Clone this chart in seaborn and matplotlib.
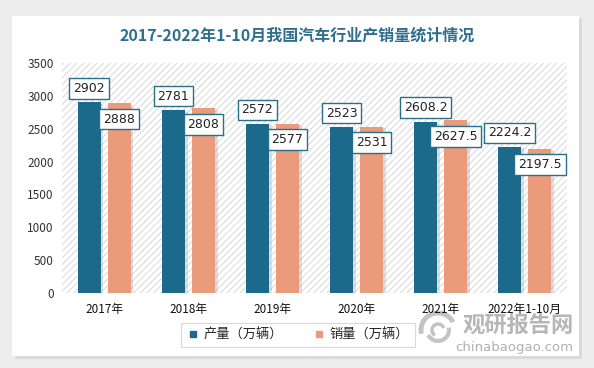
import matplotlib
matplotlib.use("Agg")
import matplotlib.pyplot as plt
import matplotlib.patheffects as pe
from matplotlib.patches import Rectangle, FancyBboxPatch, Arc
from matplotlib.lines import Line2D
import seaborn as sns
import pandas as pd

categories = ["2017年", "2018年", "2019年", "2020年", "2021年", "2022年1-10月"]
production = [2902, 2781, 2572, 2523, 2608.2, 2224.2]
sales = [2888, 2808, 2577, 2531, 2627.5, 2197.5]
series_names = ["产量（万辆）", "销量（万辆）"]
title = "2017-2022年1-10月我国汽车行业产销量统计情况"
yticks = [0, 500, 1000, 1500, 2000, 2500, 3000, 3500]

df = pd.DataFrame({
    "cat": categories * 2,
    "val": production + sales,
    "series": [series_names[0]] * len(categories) + [series_names[1]] * len(categories),
})

sns.set_theme(style="white")
plt.rcParams["font.family"] = ["Noto Sans CJK SC", "DejaVu Sans"]
plt.rcParams["hatch.linewidth"] = 0.6

W, H = 594, 368
fig = plt.figure(figsize=(W / 100, H / 100), dpi=100)
fig.patch.set_facecolor("#EDEDED")

# card with shadow
shadow = FancyBboxPatch((15 / W, 1 - 359 / H), 567 / W, 341 / H, boxstyle="square,pad=0",
                        transform=fig.transFigure, facecolor="#DADADA", edgecolor="none", zorder=0)
card = FancyBboxPatch((12 / W, 1 - 356 / H), 567 / W, 340 / H, boxstyle="square,pad=0",
                      transform=fig.transFigure, facecolor="white", edgecolor="none", zorder=0)
fig.patches.extend([shadow, card])

ax = fig.add_axes([62 / W, 1 - 293 / H, 505 / W, 230 / H])
ax.set_facecolor("none")
ax.set_zorder(2)

blue = "#1C6A8B"
salmon = "#E99B7C"
sns.barplot(data=df, x="cat", y="val", hue="series", palette=[blue, salmon],
            width=0.714, gap=0.233, ax=ax, legend=True, saturation=1, linewidth=0)

# hatched background
bg = Rectangle((0, 0), 1, 1, transform=ax.transAxes, facecolor="white",
               edgecolor="#D2D2D2", hatch="/////", linewidth=0, zorder=0)
ax.add_patch(bg)

for cont in ax.containers:
    for p in cont:
        p.set_zorder(2)
        p.set_edgecolor("none")
        p.set_path_effects([pe.SimplePatchShadow(offset=(2, -1), shadow_rgbFace="#9A9A9A", alpha=0.3),
                            pe.Normal()])

ax.set_ylim(0, 3500)
ax.set_xlim(-0.5, 5.5)
ax.set_yticks(yticks)
ax.set_yticklabels([str(v) for v in yticks], fontsize=8.5, color="#333333")
ax.tick_params(axis="x", labelsize=8.5, colors="#111111", length=0, pad=7)
ax.tick_params(axis="y", length=0, pad=6)
ax.set_xlabel("")
ax.set_ylabel("")
for s in ax.spines.values():
    s.set_visible(False)

# data labels
box = dict(boxstyle="square,pad=0.3", facecolor="white", edgecolor="#2A6F8A", linewidth=1.0)
for ci, cont in enumerate(ax.containers):
    vals = production if ci == 0 else sales
    for rect, v in zip(cont, vals):
        cx = rect.get_x() + rect.get_width() / 2
        top = rect.get_height()
        txt = f"{v:g}"
        dy = 14 if ci == 0 else -16
        ax.annotate(txt, (cx, top), xytext=(0, dy), textcoords="offset pixels",
                    ha="center", va="center", fontsize=9, color="#222222",
                    bbox=box, zorder=5, family="DejaVu Sans")

# legend
ax.get_legend().remove()
hs = [Line2D([], [], marker="s", linestyle="none", markersize=5, color=blue),
      Line2D([], [], marker="s", linestyle="none", markersize=5, color=salmon)]
leg = fig.legend(hs, series_names, loc="center", bbox_to_anchor=(298 / W, 1 - 335 / H),
                 ncol=2, fontsize=9.5, frameon=True, fancybox=False, handletextpad=0.3,
                 columnspacing=2.2, borderpad=0.45, handlelength=1.0)
leg.get_frame().set_edgecolor("#D0D0D0")
leg.get_frame().set_linewidth(0.8)

# title
fig.text(297 / W, 1 - 36 / H, title, ha="center", va="center", fontsize=11.5,
         fontweight="bold", color="#2E6F8E")

# watermark
fig.text(518 / W, 1 - 326 / H, "观研报告网", ha="center", va="center", fontsize=16,
         fontweight="bold", color="#A9A9A9", alpha=0.85, zorder=1)
fig.text(514 / W, 1 - 347 / H, "chinabaogao.com", ha="center", va="center", fontsize=9.5,
         color="#B0B0B0", zorder=1, family="DejaVu Sans")
for (w, t1, t2, lw) in [(34, 40, 200, 3.5), (22, 220, 380, 3.0), (12, 30, 250, 2.5)]:
    a = Arc((438 / W, 1 - 330 / H), w / W, w / H, theta1=t1, theta2=t2,
            transform=fig.transFigure, color="#C4C4C4", lw=lw, zorder=1)
    fig.patches.append(a)

fig.savefig("out.png", dpi=100, facecolor=fig.get_facecolor())
